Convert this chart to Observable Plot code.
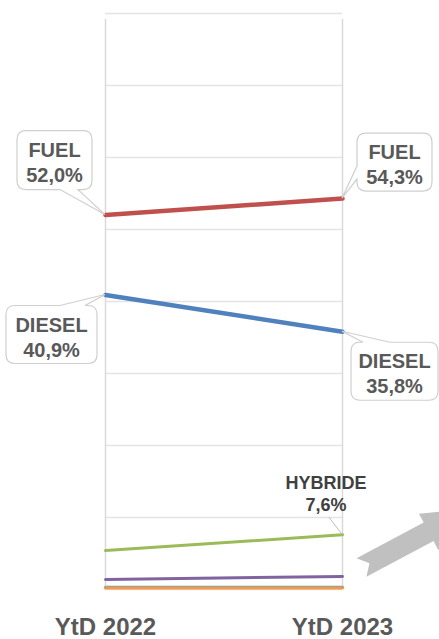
<!DOCTYPE html>
<html>
<head>
<meta charset="utf-8">
<script src="https://cdn.jsdelivr.net/npm/d3@7"></script>
<script src="https://cdn.jsdelivr.net/npm/@observablehq/plot@0.6"></script>
<style>
  html, body { margin: 0; padding: 0; background: #fff; }
  #chart svg { display: block; }
</style>
</head>
<body>
<div id="chart"></div>
<script>
// ---- data ----
const years = ["YtD 2022", "YtD 2023"];
const series = ["FUEL", "DIESEL", "HYBRIDE", "PLUG-IN", "ELECTRIQUE", "GAZ"];
const values2022 = [52.0, 40.9, 5.4, 1.4, 0.3, 0.2];
const values2023 = [54.3, 35.8, 7.6, 1.8, 0.3, 0.2];
const colors = ["#C0504D", "#4F81BD", "#9BBB59", "#8064A2", "#4BACC6", "#F79646"];
const widths = [4.5, 4.5, 3, 3, 3, 3];
const gridTicks = [0, 10, 20, 30, 40, 50, 60, 70, 80];

const table = [];
series.forEach((s, i) => {
  table.push({series: s, year: years[0], value: values2022[i]});
  table.push({series: s, year: years[1], value: values2023[i]});
});

const FONT = "'Liberation Sans', Arial, Helvetica, sans-serif";
const TEXT = "#595959";
const fmt = v => v.toFixed(1).replace(".", ",") + "%";

const plot = Plot.plot({
  width: 439,
  height: 639,
  marginTop: 13,
  marginBottom: 50,
  marginLeft: 105,
  marginRight: 97,
  style: {fontFamily: FONT, background: "#fff", overflow: "visible"},
  x: {type: "point", domain: years, padding: 0, axis: null},
  y: {domain: [0, 80], axis: null},
  marks: [
    Plot.ruleY(gridTicks, {y: d => d, x1: () => years[0], x2: () => years[1], stroke: "#e4e4e4", strokeWidth: 1.5}),
    Plot.ruleX(years, {x: d => d, y1: () => 0, y2: () => 80, insetBottom: -6, stroke: "#d9d9d9", strokeWidth: 1.5}),
    ...series.map((s, i) =>
      Plot.line(table.filter(d => d.series === s), {
        x: "year", y: "value", stroke: colors[i], strokeWidth: widths[i]
      })
    ),
    Plot.text(years, {
      x: d => d, frameAnchor: "bottom", lineAnchor: "bottom", dy: 45,
      text: d => d, fontSize: 24, fontWeight: "bold", fill: TEXT
    })
  ]
});

document.getElementById("chart").appendChild(plot);

// ---- callouts positioned from the plot's scales ----
const sx = plot.scale("x"), sy = plot.scale("y");
const svg = d3.select(plot);
const g = svg.append("g");

// box offsets relative to the anchor point (layout only)
const callouts = [
  {i: 0, year: 0, box: [-88, -84, -13, -25], side: "bottom", base: [-45, -27]},
  {i: 0, year: 1, box: [15, -65, 90, -7], side: "left", base: [-32, -19]},
  {i: 1, year: 0, box: [-99, 11, -8, 69], side: "top", base: [-45, -20]},
  {i: 1, year: 1, box: [9, 11, 96, 69], side: "top", base: [21, 48]}
];

function calloutPath(x0, y0, x1, y1, r, side, a, b, tx, ty) {
  let p = `M${x0 + r},${y0}`;
  if (side === "top") p += `L${a},${y0}L${tx},${ty}L${b},${y0}`;
  p += `L${x1 - r},${y0}Q${x1},${y0} ${x1},${y0 + r}`;
  p += `L${x1},${y1 - r}Q${x1},${y1} ${x1 - r},${y1}`;
  if (side === "bottom") p += `L${b},${y1}L${tx},${ty}L${a},${y1}`;
  p += `L${x0 + r},${y1}Q${x0},${y1} ${x0},${y1 - r}`;
  if (side === "left") p += `L${x0},${b}L${tx},${ty}L${x0},${a}`;
  p += `L${x0},${y0 + r}Q${x0},${y0} ${x0 + r},${y0}Z`;
  return p;
}

callouts.forEach(c => {
  const v = c.year === 0 ? values2022[c.i] : values2023[c.i];
  const ax = sx.apply(years[c.year]), ay = sy.apply(v);
  const x0 = ax + c.box[0], y0 = ay + c.box[1], x1 = ax + c.box[2], y1 = ay + c.box[3];
  let a, b;
  if (c.side === "left") { a = ay + c.base[0]; b = ay + c.base[1]; }
  else { a = ax + c.base[0]; b = ax + c.base[1]; }
  g.append("path")
    .attr("d", calloutPath(x0, y0, x1, y1, 9, c.side, a, b, ax, ay))
    .attr("fill", "#fff").attr("stroke", "#cfcfcf").attr("stroke-width", 1.2);
  const cx = (x0 + x1) / 2;
  [series[c.i], fmt(v)].forEach((t, k) => {
    g.append("text")
      .attr("x", cx).attr("y", y0 + 26 + k * 25)
      .attr("text-anchor", "middle")
      .attr("font-family", FONT).attr("font-size", 20).attr("font-weight", "bold")
      .attr("fill", TEXT).text(t);
  });
});

// HYBRIDE label (no box) with leader line
{
  const i = 2;
  const ax = sx.apply(years[1]), ay = sy.apply(values2023[i]);
  g.append("line").attr("x1", ax - 13).attr("y1", ay - 17).attr("x2", ax).attr("y2", ay)
    .attr("stroke", "#bfbfbf").attr("stroke-width", 1);
  [series[i], fmt(values2023[i])].forEach((t, k) => {
    g.append("text")
      .attr("x", ax - 16).attr("y", ay - 45 + k * 22)
      .attr("text-anchor", "middle")
      .attr("font-family", FONT).attr("font-size", 18).attr("font-weight", "bold")
      .attr("fill", "#404040").text(t);
  });
}

// decorative trend arrow (partially clipped at the right edge)
g.append("path")
  .attr("d", "M0,-10.5L76,-10.5L76,-20.5L126,0L76,20.5L76,10.5L0,10.5L9,0Z")
  .attr("transform", "translate(361.5,567.5) rotate(-28)")
  .attr("fill", "#c0c0c0");
</script>
</body>
</html>
